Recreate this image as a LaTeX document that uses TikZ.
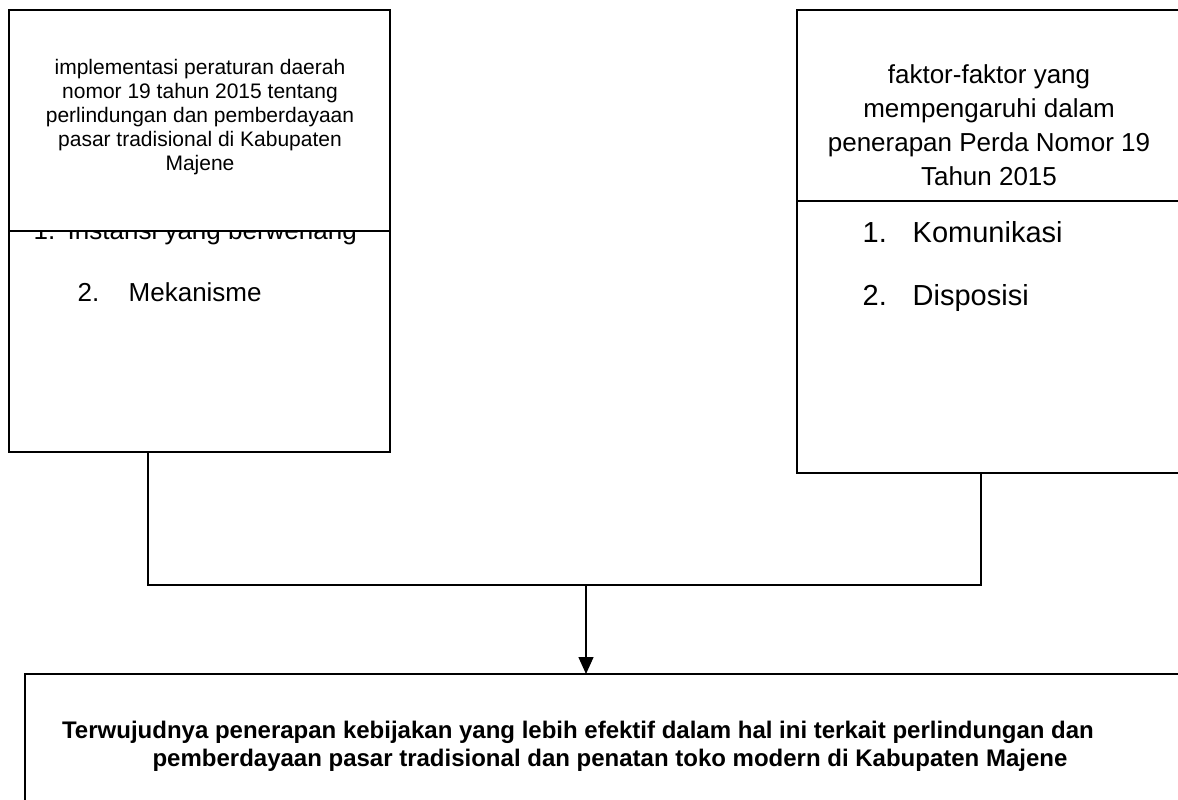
\documentclass[tikz,border=0pt]{standalone}
\usepackage{fontspec}
\setmainfont{Liberation Sans}
\usetikzlibrary{arrows.meta,positioning}

\begin{document}
\begin{tikzpicture}[%
    x=1pt, y=-1pt,
    >={Triangle[length=17pt,width=15pt]},
    line width=1.4pt,
    box/.style={draw, rectangle, inner sep=0pt, outer sep=0pt, anchor=north west},
    head/.style={align=center, anchor=base},
    item/.style={anchor=base west, inner sep=0pt, font=\fontsize{26}{30}\selectfont}]
    \clip (0,0) rectangle (1178,800);

    % left box: list first, header covers the top of item 1
    \node[box, minimum width=381pt, minimum height=442pt] (left) at (9,10) {};
    \node[item] (instansi) at (33,239) {\makebox[34pt][l]{1.}Instansi yang berwenang};
    \node[item] (mekanisme) at (77,301) {\makebox[51pt][l]{2.}Mekanisme};
    \node[box, fill=white, minimum width=381pt, minimum height=221pt] (lefthead) at (9,10) {};
    \node[head, font=\fontsize{21}{24}\selectfont] (lefttext) at (200,170)
        {implementasi peraturan daerah\\nomor 19 tahun 2015 tentang\\perlindungan dan pemberdayaan\\pasar tradisional di Kabupaten\\Majene};

    % right box
    \node[box, minimum width=384pt, minimum height=463pt] (right) at (797,10) {};
    \node[box, minimum width=384pt, minimum height=191pt] (righthead) at (797,10) {};
    \node[head, font=\fontsize{26}{34}\selectfont] (righttext) at (989,185)
        {faktor-faktor yang\\mempengaruhi dalam\\penerapan Perda Nomor 19\\Tahun 2015};
    \node[item, font=\fontsize{29}{34}\selectfont] (komunikasi) at (862,242) {\makebox[50pt][l]{1.}Komunikasi};
    \node[item, font=\fontsize{29}{34}\selectfont] (disposisi) at (862,305) {\makebox[50pt][l]{2.}Disposisi};

    % result box
    \node[box, minimum width=1200pt, minimum height=200pt] (bottom) at (25,674) {};
    \node[head, font=\bfseries\fontsize{24}{28}\selectfont] (result) at (578,766)
        {Terwujudnya penerapan kebijakan yang lebih efektif dalam hal ini terkait perlindungan dan\\
         \hspace*{64pt}pemberdayaan pasar tradisional dan penatan toko modern di Kabupaten Majene};

    % connectors
    \coordinate (lj) at (148,585);
    \coordinate (rj) at (981,585);
    \coordinate (mj) at (586,585);
    \draw (lj |- left.south) -- (lj) -- (rj) -- (rj |- right.south);
    \draw[->] (mj) -- (mj |- bottom.north);
\end{tikzpicture}
\end{document}
